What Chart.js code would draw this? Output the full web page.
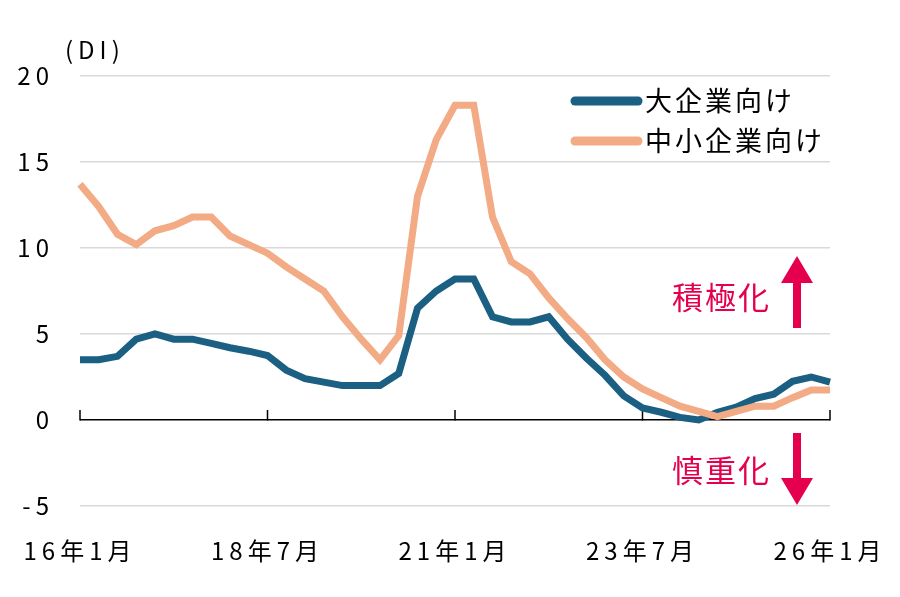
<!DOCTYPE html>
<html lang="ja">
<head>
<meta charset="UTF-8">
<title>貸出態度DI</title>
<script src="https://cdn.jsdelivr.net/npm/chart.js@4.4.0/dist/chart.umd.min.js"></script>
<style>
  body { margin: 0; background: #fff; }
  #wrap { width: 900px; height: 597px; }
</style>
</head>
<body>
<div id="wrap"><canvas id="diChart" width="900" height="597"></canvas></div>
<script>
// 四半期（1,4,7,10月）
const quarters = [
  '16年1月','16年4月','16年7月','16年10月',
  '17年1月','17年4月','17年7月','17年10月',
  '18年1月','18年4月','18年7月','18年10月',
  '19年1月','19年4月','19年7月','19年10月',
  '20年1月','20年4月','20年7月','20年10月',
  '21年1月','21年4月','21年7月','21年10月',
  '22年1月','22年4月','22年7月','22年10月',
  '23年1月','23年4月','23年7月','23年10月',
  '24年1月','24年4月','24年7月','24年10月',
  '25年1月','25年4月','25年7月','25年10月',
  '26年1月'
];
const shownTicks = ['16年1月', '18年7月', '21年1月', '23年7月', '26年1月'];
const yTicks = [-5, 0, 5, 10, 15, 20];

const seriesNames = ['大企業向け', '中小企業向け'];
// 大企業向け
const largeFirms = [
  3.5, 3.5, 3.7, 4.7, 5.0, 4.7, 4.7, 4.45, 4.2, 4.0,
  3.75, 2.9, 2.4, 2.2, 2.0, 2.0, 2.0, 2.7, 6.5, 7.5,
  8.2, 8.2, 6.0, 5.7, 5.7, 6.0, 4.7, 3.6, 2.6, 1.4,
  0.7, 0.45, 0.15, 0.0, 0.45, 0.75, 1.25, 1.5, 2.25, 2.5,
  2.2
];
// 中小企業向け
const smallFirms = [
  13.7, 12.4, 10.8, 10.2, 11.0, 11.3, 11.8, 11.8, 10.7, 10.2,
  9.7, 8.9, 8.2, 7.5, 6.0, 4.7, 3.5, 4.9, 13.0, 16.3,
  18.3, 18.3, 11.8, 9.2, 8.5, 7.1, 5.9, 4.8, 3.5, 2.5,
  1.8, 1.3, 0.8, 0.5, 0.2, 0.5, 0.8, 0.8, 1.3, 1.75,
  1.75
];

const blue = '#1b5f82';
const orange = '#f2ab84';
const red = '#e5004f';
const jpFont = "'Noto Sans CJK JP', 'Noto Sans', sans-serif";

function arrow(ctx, x, yTail, yTip) {
  const dir = yTip < yTail ? -1 : 1;
  const headLen = 27, headHalf = 16, shaftHalf = 4;
  const yBase = yTip - dir * headLen;
  ctx.beginPath();
  ctx.moveTo(x - shaftHalf, yTail);
  ctx.lineTo(x - shaftHalf, yBase);
  ctx.lineTo(x - headHalf, yBase);
  ctx.lineTo(x, yTip);
  ctx.lineTo(x + headHalf, yBase);
  ctx.lineTo(x + shaftHalf, yBase);
  ctx.lineTo(x + shaftHalf, yTail);
  ctx.closePath();
  ctx.fill();
}

const decor = {
  id: 'decor',
  beforeUpdate(chart) {
    chart.ctx.letterSpacing = '5px';
  },
  beforeDatasetsDraw(chart) {
    const { ctx, scales: { x, y } } = chart;
    const y0 = y.getPixelForValue(0);
    ctx.save();
    ctx.strokeStyle = '#000';
    ctx.lineWidth = 1.5;
    shownTicks.forEach(t => {
      const px = x.getPixelForValue(quarters.indexOf(t));
      ctx.beginPath();
      ctx.moveTo(px, y0 + 0.5);
      ctx.lineTo(px, y0 - 10);
      ctx.stroke();
    });
    ctx.restore();
  },
  afterDraw(chart) {
    const ctx = chart.ctx;
    ctx.save();
    ctx.textBaseline = 'middle';
    ctx.textAlign = 'left';

    // 単位
    ctx.letterSpacing = '5px';
    ctx.fillStyle = '#000';
    ctx.font = '24px ' + jpFont;
    ctx.fillText('(DI)', 65, 50);

    // 凡例
    const rows = [101, 141];
    ctx.letterSpacing = '3px';
    ctx.font = '27px ' + jpFont;
    ctx.lineCap = 'round';
    chart.data.datasets.forEach((ds, i) => {
      ctx.strokeStyle = ds.borderColor;
      ctx.lineWidth = 9;
      ctx.beginPath();
      ctx.moveTo(575, rows[i]);
      ctx.lineTo(638, rows[i]);
      ctx.stroke();
      ctx.fillStyle = '#000';
      ctx.fillText(ds.label, 645, rows[i]);
    });

    // 積極化 / 慎重化
    ctx.fillStyle = red;
    ctx.letterSpacing = '2px';
    ctx.font = '31px ' + jpFont;
    ctx.fillText('積極化', 672, 297);
    ctx.fillText('慎重化', 672, 470);
    arrow(ctx, 797, 328, 256);
    arrow(ctx, 797, 433, 505);
    ctx.restore();
  }
};

new Chart(document.getElementById('diChart'), {
  type: 'line',
  data: {
    labels: quarters,
    datasets: [
      {
        label: seriesNames[0],
        data: largeFirms,
        borderColor: blue,
        borderWidth: 7,
        pointRadius: 0,
        tension: 0,
        order: 1
      },
      {
        label: seriesNames[1],
        data: smallFirms,
        borderColor: orange,
        borderWidth: 7,
        pointRadius: 0,
        tension: 0,
        order: 0
      }
    ]
  },
  options: {
    responsive: false,
    animation: false,
    layout: { padding: { left: 0, right: 70, top: 76, bottom: 0 } },
    plugins: {
      legend: { display: false },
      tooltip: { enabled: false }
    },
    scales: {
      x: {
        type: 'category',
        offset: false,
        grid: { display: false },
        border: { display: false },
        ticks: {
          autoSkip: false,
          maxRotation: 0,
          minRotation: 0,
          padding: 22,
          color: '#000',
          font: { family: jpFont, size: 24 },
          callback: function (v, idx) {
            const lab = quarters[idx];
            return shownTicks.includes(lab) ? lab : '';
          }
        },
        afterFit: s => { s.height = 91; s.paddingLeft = 0; s.paddingRight = 0; }
      },
      y: {
        min: -5,
        max: 20,
        afterBuildTicks: s => { s.ticks = yTicks.map(v => ({ value: v })); },
        grid: {
          drawTicks: false,
          color: c => c.tick.value === 0 ? '#000' : '#d9d9d9',
          lineWidth: 1.5
        },
        border: { display: false },
        ticks: {
          padding: 26,
          color: '#000',
          font: { family: jpFont, size: 24 }
        },
        afterFit: s => { s.width = 80; s.paddingTop = 0; s.paddingBottom = 0; }
      }
    }
  },
  plugins: [decor]
});
</script>
</body>
</html>
